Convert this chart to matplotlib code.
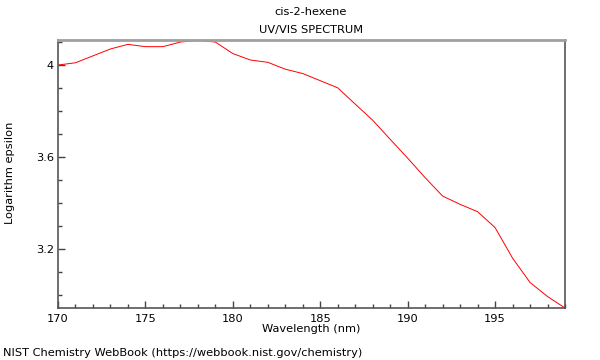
import matplotlib
matplotlib.use("Agg")
import matplotlib.pyplot as plt
from matplotlib.ticker import MultipleLocator

wavelength = [170, 171, 172, 173, 174, 175, 176, 177, 178, 179,
              180, 181, 182, 183, 184, 185, 186, 187, 188, 189,
              190, 191, 192, 193, 194, 195, 196, 197, 198, 199]
log_eps = [4.000, 4.010, 4.040, 4.070, 4.090, 4.080, 4.080, 4.100, 4.108, 4.100,
           4.050, 4.022, 4.012, 3.982, 3.963, 3.932, 3.901, 3.830, 3.760, 3.677,
           3.595, 3.510, 3.430, 3.394, 3.362, 3.293, 3.160, 3.054, 2.993, 2.943]
xticks = [170, 175, 180, 185, 190, 195]
yticks = [3.2, 3.6, 4.0]
yticklabels = ["3.2", "3.6", "4"]

plt.rcParams['font.family'] = ['DejaVu Sans']
fs = 8.2
fig = plt.figure(figsize=(6, 3.6), dpi=100)
ax = fig.add_axes([58/600, 1-308/360, (565-58)/600, (308-40)/360])
ax.plot(wavelength, log_eps, color='#ff0000', lw=0.7, clip_on=True)
ax.set_xlim(170, 199)
ax.set_ylim(2.943, 4.109)
ax.set_xticks(xticks)
ax.set_yticks(yticks)
ax.set_yticklabels(yticklabels)
ax.xaxis.set_minor_locator(MultipleLocator(1))
ax.yaxis.set_minor_locator(MultipleLocator(0.1))
ax.tick_params(which='both', direction='in', labelsize=fs, colors='#444444',
               labelcolor='black', top=False, right=False)
ax.tick_params(which='major', length=5, width=1)
ax.tick_params(which='minor', length=3, width=1)
ax.tick_params(axis='x', pad=4)
ax.tick_params(axis='y', pad=3)
for s in ['left', 'bottom', 'right']:
    ax.spines[s].set_color('#555555')
    ax.spines[s].set_linewidth(1.2)
ax.spines['top'].set_color('#a0a0a0')
ax.spines['top'].set_linewidth(2)
ax.set_xlabel('Wavelength (nm)', fontsize=fs, labelpad=0)
fig.text(10/600, 1-173/360, 'Logarithm epsilon', rotation=90, ha='center', va='center', fontsize=fs)
fig.text(311/600, 1-12/360, 'cis-2-hexene', ha='center', va='center', fontsize=fs)
fig.text(311/600, 1-30/360, 'UV/VIS SPECTRUM', ha='center', va='center', fontsize=fs)
fig.text(3/600, 1-353/360, 'NIST Chemistry WebBook (https://webbook.nist.gov/chemistry)', ha='left', va='center', fontsize=fs)
fig.savefig('out.png', dpi=100)
